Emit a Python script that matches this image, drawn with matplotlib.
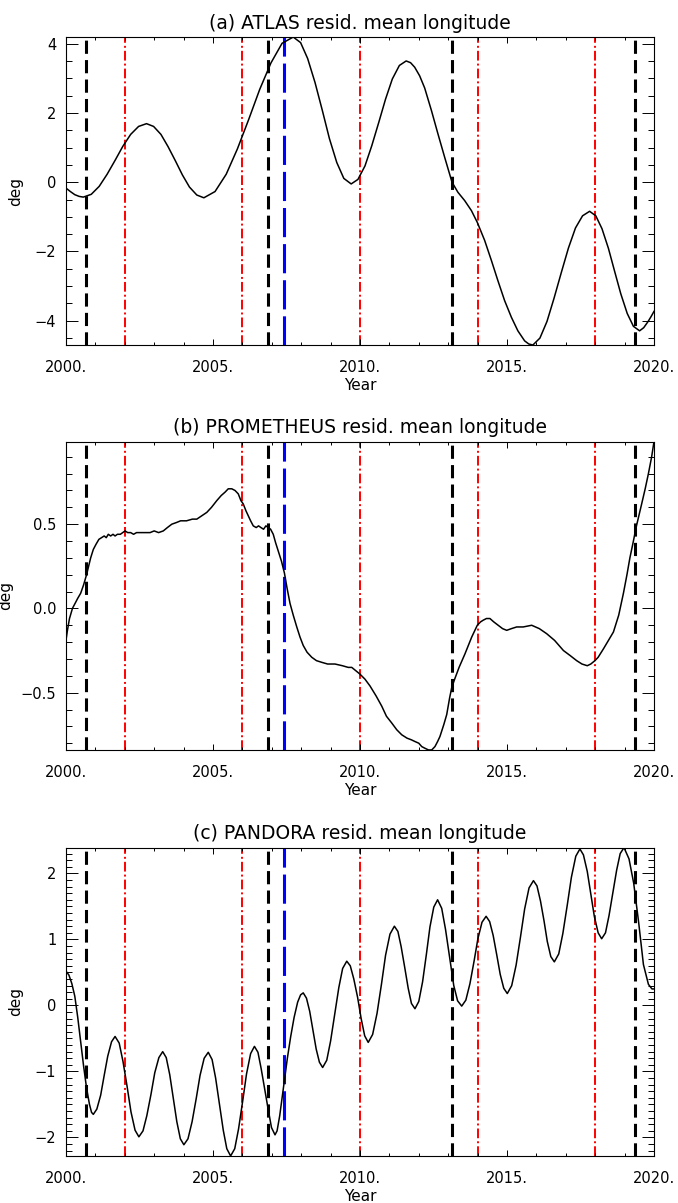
import numpy as np
import matplotlib
matplotlib.use('Agg')
import matplotlib.pyplot as plt
from matplotlib.ticker import MultipleLocator, FuncFormatter

plt.rcParams['font.family'] = ['DejaVu Sans']
plt.rcParams['lines.scale_dashes'] = False

# event epochs drawn as vertical markers in every panel
black_dates = [2000.68, 2006.88, 2013.13, 2019.37]
red_dates = [2002.0, 2006.0, 2010.0, 2014.0, 2018.0]
blue_dates = [2007.41]

atlas_year = [
    2000.00, 2000.15, 2000.30, 2000.45, 2000.59, 2000.86, 2001.13, 2001.40, 2001.67, 2001.93,
    2002.20, 2002.47, 2002.74, 2002.98, 2003.23, 2003.47, 2003.72, 2003.96, 2004.20, 2004.45,
    2004.69, 2005.07, 2005.45, 2005.83, 2006.21, 2006.59, 2006.97, 2007.35, 2007.73, 2007.98,
    2008.22, 2008.47, 2008.72, 2008.96, 2009.21, 2009.45, 2009.70, 2009.93, 2010.17, 2010.40,
    2010.64, 2010.87, 2011.10, 2011.34, 2011.57, 2011.72, 2011.86, 2012.03, 2012.20, 2012.43,
    2012.65, 2012.88, 2013.13, 2013.33, 2013.56, 2013.79, 2013.99, 2014.24, 2014.47, 2014.69,
    2014.92, 2015.15, 2015.37, 2015.60, 2015.74, 2015.88, 2016.12, 2016.36, 2016.60, 2016.85,
    2017.09, 2017.33, 2017.57, 2017.81, 2018.02, 2018.23, 2018.45, 2018.66, 2018.87, 2019.09,
    2019.30, 2019.51, 2019.65, 2019.80, 2019.90, 2020.00]
atlas_deg = [
    -0.17, -0.27, -0.36, -0.41, -0.43, -0.35, -0.12, 0.23, 0.63, 1.03,
    1.38, 1.61, 1.69, 1.61, 1.38, 1.03, 0.62, 0.21, -0.14, -0.37,
    -0.45, -0.27, 0.23, 0.96, 1.80, 2.68, 3.44, 4.01, 4.19, 4.03,
    3.57, 2.88, 2.07, 1.26, 0.57, 0.11, -0.05, 0.08, 0.47, 1.05,
    1.73, 2.40, 2.98, 3.37, 3.50, 3.45, 3.32, 3.07, 2.72, 2.07,
    1.40, 0.72, 0.00, -0.29, -0.53, -0.82, -1.16, -1.68, -2.26, -2.84,
    -3.42, -3.90, -4.29, -4.58, -4.67, -4.70, -4.50, -4.02, -3.35, -2.60,
    -1.90, -1.32, -0.97, -0.84, -0.97, -1.34, -1.91, -2.57, -3.22, -3.79,
    -4.16, -4.29, -4.20, -4.02, -3.88, -3.73]

prometheus_year = [
    2000.00, 2000.05, 2000.12, 2000.22, 2000.31, 2000.40, 2000.50, 2000.60, 2000.70, 2000.77,
    2000.84, 2000.93, 2001.02, 2001.12, 2001.21, 2001.30, 2001.37, 2001.44, 2001.52, 2001.60,
    2001.67, 2001.75, 2001.85, 2001.93, 2002.01, 2002.10, 2002.20, 2002.30, 2002.40, 2002.55,
    2002.70, 2002.86, 2003.00, 2003.15, 2003.31, 2003.45, 2003.60, 2003.76, 2003.90, 2004.10,
    2004.30, 2004.45, 2004.62, 2004.79, 2004.95, 2005.13, 2005.28, 2005.41, 2005.52, 2005.64,
    2005.75, 2005.86, 2005.95, 2006.03, 2006.12, 2006.20, 2006.28, 2006.37, 2006.47, 2006.55,
    2006.63, 2006.72, 2006.80, 2006.88, 2006.96, 2007.05, 2007.13, 2007.22, 2007.33, 2007.43,
    2007.52, 2007.62, 2007.73, 2007.85, 2007.96, 2008.07, 2008.20, 2008.36, 2008.52, 2008.70,
    2008.90, 2009.15, 2009.40, 2009.60, 2009.72, 2009.86, 2010.00, 2010.17, 2010.34, 2010.55,
    2010.74, 2010.90, 2011.08, 2011.25, 2011.42, 2011.60, 2011.75, 2011.87, 2012.00, 2012.10,
    2012.21, 2012.33, 2012.44, 2012.55, 2012.64, 2012.72, 2012.85, 2012.95, 2013.05, 2013.12,
    2013.22, 2013.37, 2013.57, 2013.80, 2013.99, 2014.10, 2014.19, 2014.30, 2014.42, 2014.55,
    2014.70, 2014.85, 2014.99, 2015.15, 2015.33, 2015.55, 2015.84, 2016.10, 2016.35, 2016.62,
    2016.92, 2017.15, 2017.37, 2017.55, 2017.73, 2017.85, 2017.99, 2018.10, 2018.28, 2018.45,
    2018.62, 2018.80, 2018.96, 2019.08, 2019.18, 2019.30, 2019.39, 2019.50, 2019.58, 2019.70,
    2019.81, 2019.92, 2020.00]
prometheus_deg = [
    -0.19, -0.13, -0.06, 0.00, 0.03, 0.06, 0.09, 0.14, 0.20, 0.25,
    0.30, 0.35, 0.38, 0.41, 0.42, 0.43, 0.42, 0.44, 0.43, 0.44,
    0.43, 0.44, 0.44, 0.45, 0.46, 0.45, 0.45, 0.44, 0.45, 0.45,
    0.45, 0.45, 0.46, 0.45, 0.46, 0.48, 0.50, 0.51, 0.52, 0.52,
    0.53, 0.53, 0.55, 0.57, 0.60, 0.64, 0.67, 0.69, 0.71, 0.71,
    0.70, 0.68, 0.64, 0.62, 0.58, 0.55, 0.52, 0.49, 0.48, 0.49,
    0.48, 0.47, 0.49, 0.48, 0.47, 0.44, 0.39, 0.34, 0.28, 0.21,
    0.12, 0.03, -0.04, -0.11, -0.17, -0.22, -0.26, -0.29, -0.31, -0.32,
    -0.33, -0.33, -0.34, -0.35, -0.35, -0.37, -0.39, -0.42, -0.46, -0.52,
    -0.58, -0.64, -0.68, -0.72, -0.75, -0.77, -0.78, -0.79, -0.80, -0.82,
    -0.83, -0.84, -0.84, -0.82, -0.79, -0.76, -0.69, -0.63, -0.53, -0.47,
    -0.42, -0.35, -0.27, -0.17, -0.10, -0.08, -0.07, -0.06, -0.06, -0.08,
    -0.10, -0.12, -0.13, -0.12, -0.11, -0.11, -0.10, -0.12, -0.15, -0.19,
    -0.25, -0.28, -0.31, -0.33, -0.34, -0.33, -0.31, -0.29, -0.24, -0.19,
    -0.14, -0.04, 0.09, 0.20, 0.30, 0.40, 0.48, 0.56, 0.62, 0.71,
    0.80, 0.90, 0.99]

pandora_year = [
    2000.00, 2000.10, 2000.20, 2000.30, 2000.40, 2000.50, 2000.60, 2000.70, 2000.80, 2000.87,
    2000.93, 2001.05, 2001.18, 2001.30, 2001.42, 2001.55, 2001.67, 2001.81, 2001.94, 2002.08,
    2002.21, 2002.35, 2002.48, 2002.62, 2002.75, 2002.89, 2003.02, 2003.16, 2003.29, 2003.41,
    2003.53, 2003.65, 2003.77, 2003.89, 2004.01, 2004.15, 2004.29, 2004.43, 2004.56, 2004.70,
    2004.84, 2004.97, 2005.09, 2005.22, 2005.35, 2005.47, 2005.60, 2005.74, 2005.87, 2006.01,
    2006.14, 2006.28, 2006.41, 2006.53, 2006.64, 2006.76, 2006.88, 2006.99, 2007.11, 2007.18,
    2007.27, 2007.35, 2007.43, 2007.53, 2007.64, 2007.76, 2007.88, 2007.98, 2008.07, 2008.18,
    2008.29, 2008.40, 2008.51, 2008.62, 2008.73, 2008.87, 2009.00, 2009.14, 2009.28, 2009.41,
    2009.55, 2009.67, 2009.79, 2009.92, 2010.04, 2010.16, 2010.28, 2010.43, 2010.58, 2010.73,
    2010.87, 2011.02, 2011.17, 2011.29, 2011.40, 2011.52, 2011.64, 2011.75, 2011.87, 2012.00,
    2012.13, 2012.26, 2012.38, 2012.51, 2012.64, 2012.78, 2012.91, 2013.05, 2013.19, 2013.32,
    2013.46, 2013.60, 2013.74, 2013.88, 2014.01, 2014.15, 2014.29, 2014.41, 2014.53, 2014.65,
    2014.77, 2014.89, 2015.01, 2015.16, 2015.31, 2015.46, 2015.60, 2015.75, 2015.90, 2016.02,
    2016.14, 2016.26, 2016.37, 2016.49, 2016.61, 2016.76, 2016.90, 2017.05, 2017.19, 2017.34,
    2017.48, 2017.60, 2017.73, 2017.85, 2017.97, 2018.10, 2018.22, 2018.35, 2018.47, 2018.60,
    2018.73, 2018.85, 2018.98, 2019.15, 2019.31, 2019.48, 2019.64, 2019.81, 2019.93, 2020.00]
pandora_deg = [
    0.52, 0.46, 0.33, 0.14, -0.18, -0.55, -0.92, -1.25, -1.50, -1.62,
    -1.65, -1.57, -1.36, -1.06, -0.77, -0.55, -0.47, -0.57, -0.85, -1.23,
    -1.61, -1.89, -1.99, -1.90, -1.67, -1.35, -1.02, -0.79, -0.70, -0.79,
    -1.05, -1.41, -1.76, -2.02, -2.11, -2.02, -1.76, -1.41, -1.06, -0.80,
    -0.71, -0.82, -1.10, -1.50, -1.89, -2.17, -2.28, -2.17, -1.87, -1.45,
    -1.04, -0.73, -0.62, -0.71, -0.96, -1.27, -1.58, -1.85, -1.96, -1.90,
    -1.67, -1.40, -1.12, -0.80, -0.48, -0.18, 0.05, 0.16, 0.19, 0.11,
    -0.09, -0.38, -0.66, -0.86, -0.94, -0.83, -0.54, -0.14, 0.27, 0.56,
    0.67, 0.60, 0.40, 0.12, -0.20, -0.46, -0.56, -0.44, -0.12, 0.32,
    0.76, 1.08, 1.20, 1.12, 0.89, 0.58, 0.26, 0.03, -0.05, 0.06,
    0.36, 0.78, 1.19, 1.49, 1.60, 1.47, 1.15, 0.72, 0.30, 0.07,
    -0.01, 0.08, 0.33, 0.67, 1.01, 1.26, 1.35, 1.27, 1.06, 0.77,
    0.47, 0.26, 0.18, 0.30, 0.61, 1.04, 1.46, 1.78, 1.89, 1.81,
    1.58, 1.28, 0.97, 0.74, 0.66, 0.78, 1.09, 1.52, 1.94, 2.26,
    2.37, 2.28, 2.03, 1.69, 1.35, 1.10, 1.01, 1.10, 1.36, 1.70,
    2.05, 2.30, 2.39, 2.22, 1.85, 1.25, 0.62, 0.32, 0.25, 0.25]

panels = [
    ('(a) ATLAS resid. mean longitude', atlas_year, atlas_deg, 2.0, 0.5),
    ('(b) PROMETHEUS resid. mean longitude', prometheus_year, prometheus_deg, 0.5, 0.1),
    ('(c) PANDORA resid. mean longitude', pandora_year, pandora_deg, 1.0, 0.1),
]

# axes boxes in figure fraction: left, bottom, width, height
boxes = [
    [0.0973, 0.7132, 0.8673, 0.2560],
    [0.0973, 0.3766, 0.8673, 0.2563],
    [0.0973, 0.0391, 0.8673, 0.2563],
]


def draw_panel(ax, title, year, deg, ymajor, yminor):
    year = np.asarray(year)
    deg = np.asarray(deg)

    for d in black_dates:
        ax.axvline(d, color='black', lw=2.2, dashes=(9.5, 4.5), zorder=1)
    for d in red_dates:
        ax.axvline(d, color='red', lw=1.4, dashes=(7.0, 2.2, 1.4, 2.2), zorder=1)
    for d in blue_dates:
        ax.axvline(d, color='blue', lw=2.2, dashes=(21.0, 5.0), zorder=1)

    ax.plot(year, deg, color='black', lw=1.1, zorder=3)

    ax.set_xlim(2000, 2020)
    ax.set_ylim(deg.min(), deg.max())

    ax.xaxis.set_major_locator(MultipleLocator(5))
    ax.xaxis.set_minor_locator(MultipleLocator(1))
    ax.xaxis.set_major_formatter(FuncFormatter(lambda v, p: '%d.' % round(v)))
    ax.yaxis.set_major_locator(MultipleLocator(ymajor))
    ax.yaxis.set_minor_locator(MultipleLocator(yminor))

    ax.tick_params(which='both', direction='in', top=True, right=True,
                   width=0.7, colors='black', labelsize=10.5)
    ax.tick_params(axis='x', which='major', length=4.3, pad=11)
    ax.tick_params(axis='x', which='minor', length=2.2)
    ax.tick_params(axis='y', which='major', length=8.6, pad=7)
    ax.tick_params(axis='y', which='minor', length=4.3)

    for sp in ax.spines.values():
        sp.set_linewidth(0.8)

    ax.set_title(title, fontsize=13.5, pad=6)
    ax.set_xlabel('Year', fontsize=11, labelpad=2)
    ax.set_ylabel('deg', fontsize=11, labelpad=8)


fig = plt.figure(figsize=(6.78, 12.03), dpi=100)
axes = []
for box, (title, year, deg, ymajor, yminor) in zip(boxes, panels):
    ax = fig.add_axes(box)
    draw_panel(ax, title, year, deg, ymajor, yminor)
    axes.append(ax)

# the wider tick labels of the middle panel push its y label to the edge
axes[1].yaxis.set_label_coords(-0.090, 0.5)

fig.savefig('out.png', dpi=100)
plt.close(fig)
